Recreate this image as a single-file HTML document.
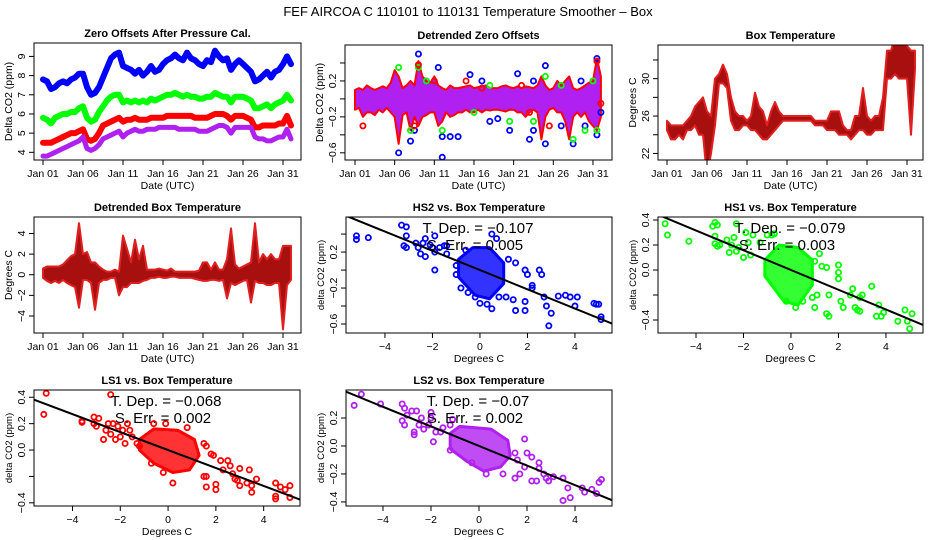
<!DOCTYPE html>
<html><head><meta charset="utf-8"><style>
body{margin:0;background:#fff}
svg{display:block;font-family:"Liberation Sans",sans-serif}
</style></head><body>
<svg id="c" width="936" height="540" viewBox="0 0 936 540">
<text x="468" y="16" text-anchor="middle" font-size="13">FEF   AIRCOA C   110101 to 110131   Temperature Smoother – Box</text>
</svg>
<script>
// ---------- data ----------
const dayLabels = ["Jan 01","Jan 06","Jan 11","Jan 16","Jan 21","Jan 26","Jan 31"];
const dayTicks = [0,5,10,15,20,25,30];
const zeroHS2 = [7.8,7.7,7.3,7.4,7.6,7.7,7.6,7.8,7.9,8.1,8.1,7.4,7.0,7.1,7.4,7.9,8.4,8.9,9.1,9.2,8.5,8.4,8.3,8.1,8.3,8.0,8.2,8.5,8.2,8.3,8.6,8.8,8.9,9.1,8.9,8.8,9.2,8.9,8.8,8.6,8.5,8.8,8.7,9.3,9.0,8.8,8.9,8.3,8.6,8.8,8.6,8.4,8.2,7.7,7.8,8.0,8.2,7.9,8.2,8.3,8.6,9.0,8.6];
const zeroHS1 = [5.8,5.7,5.5,5.8,5.9,6.0,6.0,6.1,6.1,6.3,6.4,5.8,5.6,5.7,6.1,6.4,6.7,6.9,7.0,7.0,6.6,6.7,6.6,6.7,6.6,6.7,6.6,6.8,6.7,6.8,6.9,7.0,7.0,7.1,7.0,6.9,7.0,6.9,6.9,6.8,6.8,6.9,6.9,7.1,7.0,6.9,6.9,6.6,6.9,6.9,6.9,6.8,6.7,6.3,6.3,6.4,6.5,6.3,6.5,6.6,6.7,7.0,6.7];
const zeroLS1 = [4.5,4.5,4.5,4.6,4.7,4.8,4.9,5.0,5.0,5.1,5.2,4.7,4.6,4.7,5.0,5.4,5.5,5.6,5.7,5.8,5.6,5.7,5.7,5.8,5.7,5.7,5.7,5.8,5.8,5.8,5.8,5.9,5.9,5.9,5.9,5.9,5.9,5.9,5.8,5.8,5.8,5.8,5.9,6.0,6.0,6.0,5.9,5.7,5.9,5.9,5.9,5.8,5.7,5.3,5.3,5.4,5.4,5.4,5.4,5.5,5.5,5.9,5.4];
const zeroLS2 = [3.8,3.8,3.9,4.0,4.1,4.2,4.3,4.4,4.5,4.6,4.8,4.2,4.1,4.2,4.4,4.7,4.8,4.9,5.0,5.1,4.8,5.0,5.1,5.2,5.1,5.1,5.2,5.2,5.2,5.3,5.3,5.3,5.3,5.3,5.2,5.2,5.2,5.2,5.2,5.1,5.1,5.1,5.2,5.3,5.4,5.4,5.3,5.0,5.3,5.3,5.3,5.3,5.3,4.8,4.7,4.7,4.6,4.6,4.7,4.8,4.8,5.2,4.7];
const detHi = [0.1,0.12,0.1,0.15,0.12,0.1,0.12,0.14,0.12,0.18,0.32,0.25,0.12,0.15,0.2,0.15,0.42,0.25,0.2,0.18,0.25,0.15,0.12,0.1,0.15,0.12,0.12,0.13,0.14,0.15,0.12,0.13,0.14,0.15,0.12,0.12,0.12,0.14,0.15,0.13,0.12,0.14,0.12,0.14,0.13,0.12,0.15,0.25,0.15,0.1,0.12,0.2,0.15,0.2,0.25,0.12,0.1,0.12,0.15,0.18,0.2,0.45,0.25];
const detLo = [-0.12,-0.1,-0.2,-0.15,-0.15,-0.18,-0.12,-0.15,-0.1,-0.15,-0.2,-0.5,-0.18,-0.15,-0.35,-0.2,-0.3,-0.2,-0.18,-0.15,-0.15,-0.3,-0.25,-0.15,-0.2,-0.18,-0.15,-0.15,-0.12,-0.15,-0.15,-0.12,-0.15,-0.12,-0.13,-0.12,-0.12,-0.13,-0.14,-0.12,-0.12,-0.15,-0.15,-0.2,-0.15,-0.12,-0.15,-0.45,-0.2,-0.12,-0.1,-0.15,-0.15,-0.25,-0.45,-0.2,-0.15,-0.2,-0.15,-0.25,-0.3,-0.35,-0.2];
const detOutBlueDay = [5.5,7,7.5,8,9,10.5,11,11,12,13,14.5,16,17,18,19.5,20.5,22,22.5,22.5,24,24,26,27.5,28.5,29,30.5,31,30.5];
const detOutBlueVal = [-0.6,-0.47,-0.35,0.5,0.2,0.35,-0.65,-0.42,-0.42,-0.42,0.27,0.2,-0.25,-0.22,-0.35,0.28,-0.45,-0.35,0.2,-0.5,0.37,-0.3,-0.5,0.2,-0.3,0.45,-0.15,-0.4];
const detOutGreenDay = [5.5,7,8,9,11,15,17,19.5,22.5,24,26,27.5,29,30,30.5];
const detOutGreenVal = [0.35,-0.35,0.35,0.2,-0.35,-0.15,0.15,-0.25,-0.25,0.25,0.15,-0.45,-0.35,0.2,-0.35];
const detOutRedDay = [1,7.5,8,10,14,16,21,22,24.5,30.5,31];
const detOutRedVal = [-0.3,-0.3,0.38,0.2,0.2,0.12,0.15,-0.15,-0.3,0.42,-0.05];
const boxHi = [25.5,25,25,25,25,25.5,26,27,27.5,28,26.5,26,30,30.5,31.5,30.5,28,26.5,26,26,25.5,26,28.5,27,26.5,25,26.5,27.5,26.5,26,26,26,26,26,26,26,26,25.5,25.5,25.5,25.5,26.5,26.5,26.5,25,24.5,24.5,26,26,29,26,25.5,26,26,28,33,33,34.5,34,34,33.5,33,33];
const boxLo = [24.5,23.5,23.5,24,23.5,24.5,24.5,25,24,24,19.5,22,25,29.5,29.5,29,25.5,24.5,24.5,25,25,24.5,24.5,24,23.5,23.5,24,24.5,25,25.5,25.5,25.5,25.5,25.5,25.5,25.5,25.5,25,25,25,24.5,24.5,24.5,24,24,24,23.5,24,24.5,24.5,24,24,24.5,24.5,24.5,30,30,30.5,30,30,30,24,31];
const dboxHi = [0.6,0.8,0.8,0.8,0.8,1.0,1.4,1.8,2.0,5.0,2.0,2.2,1.2,1.2,0.8,0.5,0.3,0.3,0.5,0.3,3.8,2.5,1.2,3.4,1.5,2.8,0.5,0.5,0.5,0.6,0.5,0.4,0.6,0.3,0.3,0.3,0.3,0.3,0.3,0.4,1.2,1.2,0.5,1.2,0.5,0.5,1.5,4.5,1.0,0.6,0.8,1.0,1.2,5.0,1.2,2.0,1.5,2.0,1.5,1.5,2.8,2.8,2.8];
const dboxLo = [-0.3,-0.6,-0.8,-0.6,-0.8,-0.5,-0.8,-1.0,-1.2,-3.2,-0.5,-0.5,-0.8,-3.4,-0.8,-0.5,-0.5,-0.3,-0.3,-2.0,-1.2,-1.2,-0.8,-0.8,-0.8,-0.6,-0.5,-0.3,-0.3,-0.2,-0.3,-0.3,-0.2,-0.2,-0.3,-0.3,-0.3,-0.3,-0.4,-0.5,-0.6,-0.6,-0.5,-0.5,-0.6,-0.5,-2.3,-0.8,-1.0,-0.8,-0.6,-0.5,-2.7,-0.6,-0.8,-0.8,-1.0,-1.0,-0.8,-0.8,-5.3,-1.0,-0.5];
const hs2X = [-5.2,-5.2,-4.7,-3.3,-3.1,-3.1,-3.2,-3.1,-2.7,-2.6,-2.5,-2.4,-2.3,-2.3,-2.1,-2,-1.9,-1.9,-1.7,-1.5,-1.4,-1.4,-1.9,-1,-1,-0.8,-0.5,-0.2,0,0.5,0.3,0.8,1.1,1.4,1.5,1.9,1.9,2,1.9,2.2,2.5,2.6,2.7,2.8,3,2.9,3.3,3.6,3.8,4.1,4,4.8,4.9,5,5.1,5.1,2.2,1.2,1.5,0.5,0.7,-0.6];
const hs2Y = [0.38,0.34,0.36,0.5,0.48,0.38,0.27,0.25,0.3,0.25,0.18,0.3,0.35,0.15,0.28,0.25,0.2,0.38,0.25,0.27,0.27,0.18,0,0.05,-0.05,-0.2,-0.25,-0.3,-0.37,-0.43,-0.38,-0.3,-0.3,-0.33,-0.45,-0.45,-0.35,-0.05,0,-0.17,0,-0.05,-0.3,-0.4,-0.48,-0.62,-0.29,-0.28,-0.3,-0.3,-0.4,-0.37,-0.38,-0.38,-0.52,-0.55,-0.2,0.12,0.08,0.4,0.35,0.22];
const hs2HullX = [-0.9,-0.3,0.4,1.0,1.0,0.4,-0.2,-0.9];
const hs2HullY = [0.12,0.25,0.25,0.08,-0.15,-0.32,-0.28,-0.08];
const hs1X = [-5.3,-5.2,-4.3,-3.3,-3.2,-3.1,-3.2,-3.2,-3.1,-3,-2.7,-2.6,-2.5,-2.4,-2.3,-2.2,-2,-1.9,-1.8,-1.7,-1.6,-1.3,-2.3,-0.7,-0.8,-1,1.2,1,1.3,1.5,2,2,2,1.6,1.1,0.9,0.5,0.2,-0.2,1,1.5,1.6,2.1,2.2,2.5,2.7,2.8,2.9,2.9,3,3.4,3.9,3.6,3.8,4.5,4.8,5.1,4.9,5,3.7,2.6];
const hs1Y = [0.37,0.28,0.23,0.35,0.38,0.36,0.27,0.21,0.19,0.2,0.24,0.14,0.2,0.26,0.15,0.18,0.1,0.3,0.22,0.12,0.28,0.22,0.37,0.29,0.28,0.28,0.13,0.07,0.03,0.02,0.04,-0.02,-0.07,-0.2,-0.2,-0.22,-0.25,-0.3,-0.25,-0.3,-0.35,-0.37,-0.25,-0.3,-0.2,-0.3,-0.32,-0.33,-0.22,-0.2,-0.13,-0.34,-0.37,-0.37,-0.41,-0.32,-0.35,-0.41,-0.47,-0.28,-0.15];
const hs1HullX = [-1.1,-0.5,0.3,0.9,0.9,0.3,-0.3,-1.1];
const hs1HullY = [0.08,0.2,0.18,0.08,-0.12,-0.28,-0.25,-0.05];
const ls1X = [-5.1,-5.2,-3.6,-3.6,-3.1,-3.1,-3,-2.9,-2.7,-2.6,-2.5,-2.4,-2.4,-2.3,-2.2,-2,-1.9,-1.8,-1.7,-1.6,-1.5,-1.3,-1.2,-2.1,-0.6,-0.1,0.8,1.5,1.6,1.8,1.9,2.2,2.5,2.3,2.6,2.7,2.8,2.9,3,3,3.3,3.4,3.5,3.5,3.7,2,2,1.6,1.5,1.6,0.2,-0.2,-0.7,4.5,4.7,4.9,5.1,4.5,4.5,5.1];
const ls1Y = [0.43,0.27,0.22,0.21,0.25,0.2,0.18,0.24,0.08,0.15,0.2,0.42,0.12,0.2,0.08,0.1,0.15,0.05,0.2,0.15,0.1,0.05,0.03,0.18,0.2,0.2,0.17,0.05,0.03,-0.03,-0.04,-0.08,-0.08,-0.15,-0.12,-0.18,-0.22,-0.23,-0.14,-0.27,-0.25,-0.15,-0.27,-0.32,-0.22,-0.26,-0.3,-0.28,-0.2,-0.2,-0.25,-0.17,-0.1,-0.25,-0.28,-0.3,-0.27,-0.35,-0.37,-0.36];
const ls1HullX = [-1.2,-0.6,0.4,1.1,1.3,0.9,0.2,-0.6,-1.2];
const ls1HullY = [0.08,0.16,0.15,0.08,-0.04,-0.15,-0.17,-0.1,0];
const ls2X = [-5.2,-4.9,-4.1,-3.2,-3.1,-3.2,-3.1,-3,-2.8,-2.6,-2.7,-2.7,-2.5,-2.4,-2.3,-2.1,-2,-2,-1.8,-1.9,-1.6,-1.5,-1.2,-1.1,1.9,2,2.2,1.5,1.6,1.9,1.5,1.7,2.2,2.4,2.5,2.5,2.7,2.8,2.9,3.1,3.5,3.5,3.7,3.8,4.3,4.4,4.7,4.9,5,5.1,1,0.3,-0.3,-1.2];
const ls2Y = [0.29,0.37,0.3,0.3,0.27,0.18,0.15,0.22,0.25,0.25,0.1,0.08,0.15,0.2,0.12,0.15,0.2,0.24,0.1,0.03,0.1,0.13,0.15,0.19,0.05,-0.05,-0.08,-0.05,-0.1,-0.15,-0.23,-0.2,-0.25,-0.25,-0.12,-0.16,-0.2,-0.23,-0.25,-0.22,-0.23,-0.39,-0.3,-0.37,-0.3,-0.33,-0.31,-0.34,-0.26,-0.24,-0.2,-0.2,-0.12,-0.03];
const ls2HullX = [-1.2,-0.8,0.5,1.2,1.3,0.9,0.2,-0.5,-1.2];
const ls2HullY = [0.09,0.14,0.12,0.04,-0.07,-0.15,-0.18,-0.11,-0.02];
const slopes = [-0.107,-0.079,-0.068,-0.07];
const errs = ["0.005","0.003","0.002","0.002"];

// ---------- helpers ----------
const NS="http://www.w3.org/2000/svg";
const svg=document.getElementById('c');
function mk(tag,attrs,parent){const e=document.createElementNS(NS,tag);for(const k in attrs)e.setAttribute(k,attrs[k]);(parent||svg).appendChild(e);return e;}
const BLUE="#0000ff",GREEN="#00ff00",RED="#ff0000",PURPLE="#b020f0";

function panel(name,box,xr,yr,opt){
  const g=mk('g',{});
  
  
  const sx=v=>box.x+(v-xr[0])/(xr[1]-xr[0])*box.w;
  const sy=v=>box.y+box.h-(v-yr[0])/(yr[1]-yr[0])*box.h;
  const clip=mk('clipPath',{id:'clip-'+name},g);
  mk('rect',{x:box.x,y:box.y,width:box.w,height:box.h},clip);
  const plot=mk('g',{'clip-path':'url(#clip-'+name+')'},g);
  const t=mk('text',{x:box.x+box.w/2,y:box.y-6,'text-anchor':'middle','font-size':11,'font-weight':'bold'},g);
  t.textContent=opt.title;
  
  
  const b=mk('rect',{x:box.x,y:box.y,width:box.w,height:box.h,fill:'none',stroke:'#000','stroke-width':1},g);
  
  
  const by=box.y+box.h;
  opt.xt.forEach((v,i)=>{
    mk('line',{x1:sx(v),x2:sx(v),y1:by,y2:by+5,stroke:'#000'},g);
    const l=mk('text',{x:sx(v),y:by+17,'text-anchor':'middle','font-size':10.5},g);
    l.textContent=opt.xl[i];
    
    
  });
  mk('line',{x1:sx(opt.xt[0]),x2:sx(opt.xt[opt.xt.length-1]),y1:by,y2:by,stroke:'#000'},g);
  const xt=mk('text',{x:box.x+box.w/2,y:by+29,'text-anchor':'middle','font-size':10.5},g);
  xt.textContent=opt.xtitle;
  
  
  opt.yt.forEach((v,i)=>{
    const y=sy(v);
    mk('line',{x1:box.x-5,x2:box.x,y1:y,y2:y,stroke:'#000'},g);
    if(opt.yl[i]!==''){
      const l=mk('text',{x:0,y:0,'text-anchor':'middle','font-size':10.5,transform:`translate(${box.x-9},${y}) rotate(-90)`},g);
      l.textContent=opt.yl[i];
      
      
    }
  });
  const yt=mk('text',{x:0,y:0,'text-anchor':'middle','font-size':opt.ytfs||10.5,transform:`translate(${box.x-22},${box.y+box.h/2}) rotate(-90)`},g);
  yt.textContent=opt.ytitle;
  
  
  return {g,plot,sx,sy};
}
function halfDays(n){const a=[];for(let i=0;i<n;i++)a.push(i*0.5);return a;}

function line(p,xs,ys,color,w,name){
  const pl=mk('polyline',{points:xs.map((x,i)=>p.sx(x)+','+p.sy(ys[i])).join(' '),fill:'none',stroke:color,'stroke-width':w,'stroke-linejoin':'round','stroke-linecap':'round'},p.plot);
  
  
}
function band(p,xs,hi,lo,fill,stroke,sw,name){
  const pts=xs.map((x,i)=>p.sx(x)+','+p.sy(hi[i])).concat(xs.slice().reverse().map((x,j)=>{const i=xs.length-1-j;return p.sx(x)+','+p.sy(lo[i]);}));
  const pg=mk('polygon',{points:pts.join(' '),fill:fill,stroke:stroke,'stroke-width':sw,'stroke-linejoin':'round'},p.plot);
  
  
}
function pts(p,xs,ys,color,name){
  xs.forEach((x,i)=>{
    const c=mk('circle',{cx:p.sx(x),cy:p.sy(ys[i]),r:2.6,fill:'none',stroke:color,'stroke-width':1.8},p.plot);
    
    
  });
}
function hull(p,xs,ys,color,name){
  const pg=mk('polygon',{points:xs.map((x,i)=>p.sx(x)+','+p.sy(ys[i])).join(' '),fill:color,'fill-opacity':0.8,stroke:color,'stroke-width':3,'stroke-linejoin':'round'},p.plot);
  
  
}

const hd=halfDays(63);
{
  const p=panel('zero-offsets-panel',{x:34,y:43,w:267,h:117},[-1.125,32.25],[3.6,9.7],
    {title:'Zero Offsets After Pressure Cal.',xt:dayTicks,xl:dayLabels,xtitle:'Date (UTC)',yt:[4,5,6,7,8,9],yl:['4','5','6','7','8','9'],ytitle:'Delta CO2 (ppm)'});
  line(p,hd,zeroHS2,BLUE,6,'hs2-zero-series');
  line(p,hd,zeroHS1,GREEN,6,'hs1-zero-series');
  line(p,hd,zeroLS1,RED,6,'ls1-zero-series');
  line(p,hd,zeroLS2,PURPLE,5,'ls2-zero-series');
}
{
  const p=panel('detrended-zero-panel',{x:345,y:45,w:267,h:115},[-1.26,32.4],[-0.68,0.6],
    {title:'Detrended Zero Offsets',xt:dayTicks,xl:dayLabels,xtitle:'Date (UTC)',yt:[-0.6,-0.4,-0.2,0,0.2,0.4],yl:['−0.6','','−0.2','','0.2',''],ytitle:'Delta CO2 (ppm)'});
  band(p,hd,detHi,detLo,PURPLE,RED,2,'detrended-zero-band');
  pts(p,detOutBlueDay,detOutBlueVal,BLUE,'hs2-outlier-point');
  pts(p,detOutGreenDay,detOutGreenVal,GREEN,'hs1-outlier-point');
  pts(p,detOutRedDay,detOutRedVal,RED,'ls1-outlier-point');
}
{
  const p=panel('box-temperature-panel',{x:658,y:45,w:265,h:115},[-1.125,32],[21.3,33.6],
    {title:'Box Temperature',xt:dayTicks,xl:dayLabels,xtitle:'Date (UTC)',yt:[22,24,26,28,30,32],yl:['22','','26','','30',''],ytitle:'Degrees C'});
  band(p,hd,boxHi,boxLo,'#a81010','#e02020',2,'box-temperature-band');
}
{
  const p=panel('detrended-box-temp-panel',{x:34,y:217,w:267,h:116},[-1.125,32.25],[-5.65,5.6],
    {title:'Detrended Box Temperature',xt:dayTicks,xl:dayLabels,xtitle:'Date (UTC)',yt:[-4,-2,0,2,4],yl:['−4','−2','0','2','4'],ytitle:'Degrees C'});
  band(p,hd,dboxHi,dboxLo,'#a81010','#e02020',2,'detrended-box-temp-band');
}
function scatter(name,box,xr,yr,yt,yl,title,X,Y,HX,HY,color,si,tx){
  const p=panel(name,box,xr,yr,{title:title,xt:[-4,-2,0,2,4],xl:['−4','−2','0','2','4'],xtitle:'Degrees C',yt:yt,yl:yl,ytitle:'delta CO2 (ppm)',ytfs:9.5});
  hull(p,HX,HY,color,'dense-cluster');
  pts(p,X,Y,color,'scatter-point');
  const r=mk('line',{x1:p.sx(xr[0]),y1:p.sy(slopes[si]*xr[0]),x2:p.sx(xr[1]),y2:p.sy(slopes[si]*xr[1]),stroke:'#000','stroke-width':2},p.plot);
  
  
  const a=mk('text',{x:tx,y:box.y+16,'text-anchor':'middle','font-size':15},p.g);
  a.textContent='T. Dep. =  −'+Math.abs(slopes[si]);
  
  
  const e=mk('text',{x:tx-3,y:box.y+33,'text-anchor':'middle','font-size':15},p.g);
  e.textContent='S. Err. =  '+errs[si];
  
  
}
scatter('hs2-scatter-panel',{x:346,y:217,w:266,h:116},[-5.64,5.56],[-0.70,0.59],[-0.6,-0.4,-0.2,0,0.2,0.4],['−0.6','','−0.2','','0.2',''],'HS2 vs. Box Temperature',hs2X,hs2Y,hs2HullX,hs2HullY,BLUE,0,478);
scatter('hs1-scatter-panel',{x:658,y:217,w:265,h:116},[-5.6,5.56],[-0.504,0.424],[-0.4,-0.2,0,0.2,0.4],['−0.4','','0.0','0.2','0.4'],'HS1 vs. Box Temperature',hs1X,hs1Y,hs1HullX,hs1HullY,GREEN,1,790);
scatter('ls1-scatter-panel',{x:34,y:390,w:266,h:116},[-5.61,5.52],[-0.424,0.455],[-0.4,-0.2,0,0.2,0.4],['−0.4','','0.0','0.2','0.4'],'LS1 vs. Box Temperature',ls1X,ls1Y,ls1HullX,ls1HullY,RED,2,166);
scatter('ls2-scatter-panel',{x:346,y:390,w:266,h:116},[-5.54,5.54],[-0.429,0.4],[-0.4,-0.2,0,0.2],['−0.4','−0.2','0.0','0.2'],'LS2 vs. Box Temperature',ls2X,ls2Y,ls2HullX,ls2HullY,PURPLE,3,478);
</script>
</body></html>
